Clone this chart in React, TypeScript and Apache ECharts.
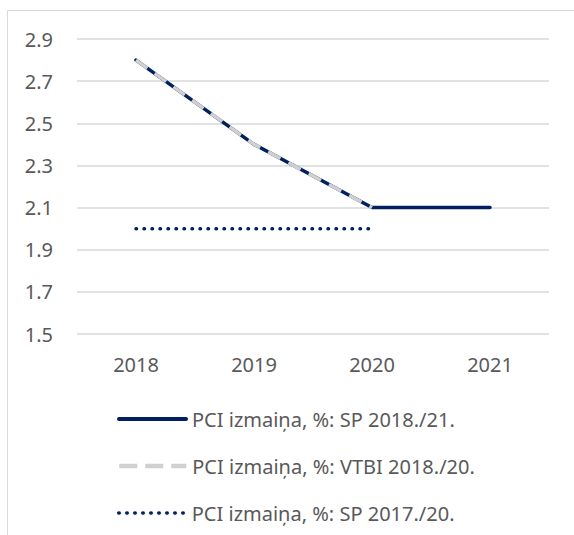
import React, { useEffect, useRef } from "react";
import * as echarts from "echarts";

const categories = ["2018", "2019", "2020", "2021"];
const sp2018 = [2.8, 2.4, 2.1, 2.1];
const vtbi2018 = [2.8, 2.4, 2.1, null];
const sp2017 = [2.0, 2.0, 2.0, null];
const yTicks = [1.5, 1.7, 1.9, 2.1, 2.3, 2.5, 2.7, 2.9];
const seriesNames = [
  "PCI izmaiņa, %: SP 2018./21.",
  "PCI izmaiņa, %: VTBI 2018./20.",
  "PCI izmaiņa, %: SP 2017./20.",
];

const NAVY = "#002060";
const GRAY = "#d0d0d0";
const TEXT = "#595959";
const FONT = "Noto Sans";
const legendTops = [404, 451, 498];
const legendLines = [
  { width: 4, type: "solid", cap: "round" },
  { width: 4.5, type: [18, 8], cap: "butt" },
  { width: 3.5, type: [0.5, 7.5], cap: "round" },
];

export default function App() {
  const ref = useRef<HTMLDivElement>(null);
  useEffect(() => {
    if (!ref.current) return;
    const chart = echarts.init(ref.current, null, { renderer: "svg" });
    chart.setOption({
      animation: false,
      backgroundColor: "#ffffff",
      textStyle: { fontFamily: FONT },
      graphic: [
        {
          type: "rect",
          shape: { x: 7.5, y: 10.5, width: 800, height: 800 },
          style: { fill: "none", stroke: "#d9d9d9", lineWidth: 1 },
          silent: true,
          z: -10,
        },
      ],
      grid: { left: 77, right: 25, top: 39, bottom: 201 },
      xAxis: {
        type: "category",
        data: categories,
        boundaryGap: true,
        axisLine: { show: false },
        axisTick: { show: false },
        axisLabel: { color: TEXT, fontSize: 20, fontFamily: FONT, margin: 20 },
      },
      yAxis: {
        type: "value",
        min: 1.5,
        max: 2.9,
        axisLine: { show: false },
        axisTick: { show: false, customValues: yTicks },
        axisLabel: {
          customValues: yTicks,
          color: TEXT,
          fontSize: 20,
          fontFamily: FONT,
          margin: 24,
          formatter: (v: number) => v.toFixed(1),
        },
        splitLine: { show: true, lineStyle: { color: "#d9d9d9", width: 1.5 } },
      },
      legend: seriesNames.map((name, i) => ({
        orient: "vertical",
        left: 112,
        top: legendTops[i],
        itemWidth: 67,
        itemHeight: 14,
        data: [name],
        itemStyle: { opacity: 0 },
        lineStyle: legendLines[i],
        textStyle: { color: TEXT, fontSize: 20, fontFamily: FONT, padding: [0, 0, 0, 1] },
      })),
      series: [
        {
          name: seriesNames[0],
          type: "line",
          data: sp2018,
          symbol: "none",
          lineStyle: { color: NAVY, width: 3.5, cap: "round" },
          itemStyle: { color: NAVY },
          z: 2,
        },
        {
          name: seriesNames[1],
          type: "line",
          data: vtbi2018,
          symbol: "none",
          lineStyle: { color: GRAY, width: 3.5, type: [14, 9] },
          itemStyle: { color: GRAY },
          z: 3,
        },
        {
          name: seriesNames[2],
          type: "line",
          data: sp2017,
          symbol: "none",
          lineStyle: { color: NAVY, width: 3.5, type: [0.5, 7.5], cap: "round" },
          itemStyle: { color: NAVY },
          z: 4,
        },
      ],
    });
    return () => chart.dispose();
  }, []);
  return (
    <div
      ref={ref}
      style={{ position: "fixed", left: 0, top: 0, width: 574, height: 535 }}
    />
  );
}
